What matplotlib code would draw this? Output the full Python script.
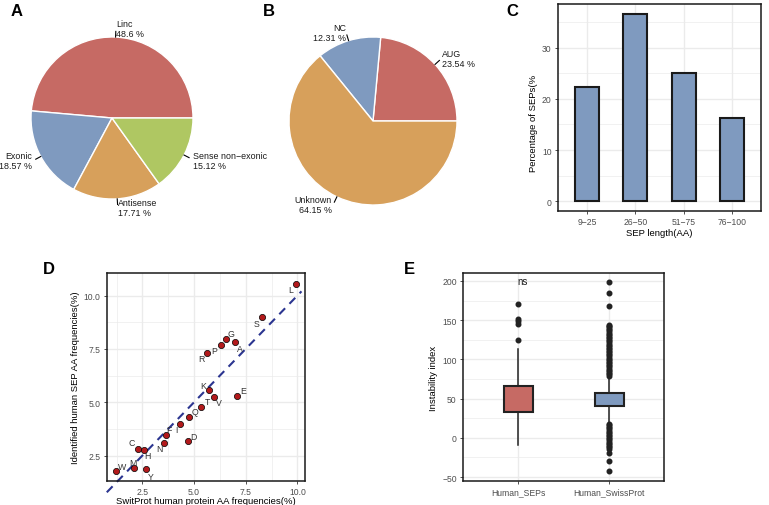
import numpy as np
import matplotlib
matplotlib.use("Agg")
import matplotlib.pyplot as plt
from matplotlib.ticker import MultipleLocator

plt.rcParams['font.family'] = ['Liberation Sans', 'DejaVu Sans']

# ---- data ----
# A: SEP origin
a_labels = ["Linc", "Exonic", "Antisense", "Sense non\u2212exonic"]
a_values = [48.6, 18.57, 17.71, 15.12]

# B: start codon
b_labels = ["AUG", "NC", "Unknown"]
b_values = [23.54, 12.31, 64.15]

# C: SEP length distribution
c_bins = ["9\u221225", "26\u221250", "51\u221275", "76\u2212100"]
c_pct = [22.3, 36.6, 25.1, 16.2]

# D: amino acid frequencies
d_aa = ["L", "S", "G", "A", "P", "R", "K", "E", "V", "T",
        "Q", "I", "F", "N", "D", "C", "H", "W", "M", "Y"]
d_swissprot = [9.95, 8.31, 6.56, 7.00, 6.29, 5.63, 5.71, 7.08, 5.95, 5.34,
               4.76, 4.32, 3.63, 3.55, 4.73, 2.29, 2.60, 1.21, 2.11, 2.66]
d_sep = [10.56, 8.98, 7.97, 7.81, 7.67, 7.31, 5.56, 5.30, 5.27, 4.80,
         4.33, 3.98, 3.48, 3.11, 3.17, 2.83, 2.77, 1.77, 1.91, 1.86]

# E: instability index box stats
e_groups = ["Human_SEPs", "Human_SwissProt"]
e_q1 = [32.4, 41.0]
e_med = [49.9, 48.6]
e_q3 = [66.1, 56.7]
e_whislo = [-8.8, 20.2]
e_whishi = [113.6, 77.5]
e_fliers_sep = [124.3, 145.5, 148.5, 151.0, 170.7]
e_fliers_sp = [79, 81, 83, 85, 87, 89, 91, 93, 95, 97, 99, 101, 103, 105,
               107, 109, 111, 113, 115, 117, 119, 121, 123, 125, 127, 129,
               131, 133, 135, 137, 139, 141, 143, 144.3, 168, 184.7, 198.7,
               18, 16, 14, 12, 10, 8, 6, 4, 2, 0, -2, -4, -6, -8, -10,
               -12, -13.9, -19, -30, -42.9]

# ---- style ----
RED = "#C66A64"
BLUE = "#7F9ABF"
ORANGE = "#D7A05B"
GREEN = "#AFC762"
GRID = "#EBEBEB"
TICKCOL = "#4D4D4D"

W, H = 769, 506
fig = plt.figure(figsize=(W / 100, H / 100), dpi=100)


def px_axes(x0, y0, x1, y1):
    # pixel box (top-left origin) -> figure axes
    return fig.add_axes([x0 / W, 1 - y1 / H, (x1 - x0) / W, (y1 - y0) / H])


def style(ax):
    for s in ax.spines.values():
        s.set_color("#1A1A1A")
        s.set_linewidth(1.1)
    ax.tick_params(length=2.5, width=0.6, color="#333333",
                   labelsize=6.2, labelcolor=TICKCOL, pad=2)
    ax.grid(True, which="major", color=GRID, lw=1.0, zorder=0)
    ax.grid(True, which="minor", color=GRID, lw=0.5, zorder=0)
    ax.tick_params(which="minor", length=0)
    ax.set_axisbelow(True)


def draw_pie(ax, values, colors, labels, text_pos):
    ax.pie(values, colors=colors, startangle=0, counterclock=True,
           wedgeprops=dict(edgecolor="white", linewidth=1.0))
    ax.set_xlim(-1, 1)
    ax.set_ylim(-1, 1)
    ax.set_aspect("equal")
    ax.axis("off")
    cum = np.cumsum([0] + list(values))
    for i, lab in enumerate(labels):
        mid = np.deg2rad((cum[i] + cum[i + 1]) / 2 * 3.6)
        ax.plot([np.cos(mid), 1.07 * np.cos(mid)],
                [np.sin(mid), 1.07 * np.sin(mid)],
                color="black", lw=0.8, clip_on=False)
        tx, ty, ha = text_pos[i]
        ax.text(tx, ty, f"{lab}\n{values[i]} %", ha=ha, va="center",
                multialignment=ha, fontsize=6.4, color="#1A1A1A",
                linespacing=1.15)


# ---- A ----
axA = px_axes(31, 38, 193, 200)
draw_pie(axA, a_values, [RED, BLUE, ORANGE, GREEN], a_labels,
         [(0.05, 1.11, "left"), (-0.985, -0.53, "right"),
          (0.07, -1.11, "left"), (1.0, -0.52, "left")])

# ---- B ----
axB = px_axes(289, 38, 457, 206)
draw_pie(axB, b_values, [RED, BLUE, ORANGE], b_labels,
         [(0.82, 0.74, "left"), (-0.32, 1.05, "right"),
          (-0.49, -0.99, "right")])

# ---- C ----
axC = px_axes(558, 5, 761, 212)
xc = np.arange(len(c_bins))
axC.bar(xc, c_pct, width=0.5, color=BLUE, edgecolor="#1A1A1A",
        linewidth=1.5, zorder=3)
axC.set_xticks(xc, c_bins)
axC.set_xlim(-0.6, 3.6)
axC.set_ylim(-1.9, 38.5)
axC.yaxis.set_major_locator(MultipleLocator(10))
axC.yaxis.set_minor_locator(MultipleLocator(5))
style(axC)
axC.set_xlabel("SEP length(AA)", fontsize=6.8, labelpad=1)
axC.set_ylabel("Percentage of SEPs(%", fontsize=6.8)
axC.yaxis.set_label_coords(-0.098, 0.43)

# ---- D ----
axD = px_axes(107, 274, 305, 482)
axD.plot([0.78, 10.2], [0.78, 10.2], color="#2B3590", lw=1.5,
         linestyle=(0, (4, 3)), clip_on=False, zorder=2)
axD.scatter(d_swissprot, d_sep, s=20, color="#B2191B", edgecolor="black",
            linewidth=0.5, zorder=4)
offsets = {"L": (-6, -6), "S": (-6, -6), "G": (5, 5), "A": (5, -6),
           "P": (-6, -5), "R": (-6, -6), "K": (-5, 5), "E": (6, 5),
           "V": (5, -6), "T": (6, 5), "Q": (6, 5), "I": (-4, -5),
           "F": (3, 5), "N": (-5, -6), "D": (5, 5), "C": (-6, 6),
           "H": (3, -6), "W": (6, 5), "M": (-1, 6), "Y": (5, -7)}
for aa, xv, yv in zip(d_aa, d_swissprot, d_sep):
    axD.annotate(aa, (xv, yv), xytext=offsets[aa], textcoords="offset pixels",
                 ha="center", va="center", fontsize=6.3, color="#333333",
                 zorder=5)
axD.set_xlim(0.79, 10.37)
axD.set_ylim(1.31, 11.06)
for axis in (axD.xaxis, axD.yaxis):
    axis.set_major_locator(MultipleLocator(2.5))
    axis.set_minor_locator(MultipleLocator(1.25))
axD.xaxis.set_major_formatter(lambda v, p: f"{v:.1f}")
axD.yaxis.set_major_formatter(lambda v, p: f"{v:.1f}")
style(axD)
axD.set_xlabel("SwitProt human protein AA frequencies(%)", fontsize=6.8,
               labelpad=0)
axD.set_ylabel("Identified human SEP AA frequencies(%)", fontsize=6.8)
axD.yaxis.set_label_coords(-0.136, 0.5)

# ---- E ----
axE = px_axes(463, 274, 664, 482)
stats = []
fliers = [e_fliers_sep, e_fliers_sp]
for i, g in enumerate(e_groups):
    stats.append(dict(label=g, q1=e_q1[i], med=e_med[i], q3=e_q3[i],
                      whislo=e_whislo[i], whishi=e_whishi[i],
                      fliers=fliers[i]))
bp = axE.bxp(stats, positions=[1, 2], widths=0.31, patch_artist=True,
             showcaps=False,
             boxprops=dict(edgecolor="#222222", linewidth=1.5),
             medianprops=dict(color="#222222", linewidth=2.8),
             whiskerprops=dict(color="#222222", linewidth=1.1),
             flierprops=dict(marker="o", markerfacecolor="#222222",
                             markeredgecolor="#222222", markersize=3.3))
for patch, col in zip(bp["boxes"], [RED, BLUE]):
    patch.set_facecolor(col)
    patch.set_zorder(3)
axE.set_xlim(0.39, 2.6)
axE.set_ylim(-55.1, 210.2)
axE.yaxis.set_major_locator(MultipleLocator(50))
axE.yaxis.set_minor_locator(MultipleLocator(25))
style(axE)
axE.set_ylabel("Instability index", fontsize=6.8)
axE.yaxis.set_label_coords(-0.124, 0.5)
axE.text(1.05, 200, "ns", ha="center", va="center", fontsize=7,
         color="#1A1A1A")

# ---- panel letters ----
for lab, x, y in [("A", 11, 12), ("B", 263, 12), ("C", 506, 12),
                  ("D", 43, 270), ("E", 404, 269)]:
    fig.text(x / W, 1 - y / H, lab, fontsize=12, fontweight="bold",
             ha="left", va="center")

fig.savefig("out.png", dpi=100)
